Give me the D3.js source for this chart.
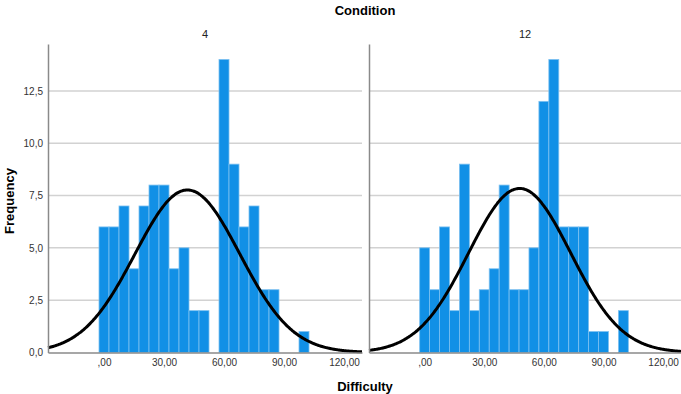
<html>
  <head>
    <style>
      body { margin: 0; background: #fff; }
      text { font-family: "Liberation Sans", Arial, sans-serif; }
    </style>
  </head>
  <body>
    <script src="https://d3js.org/d3.v7.min.js"></script>
    <script>
      // DATA
      const binCenters = [0, 5, 10, 15, 20, 25, 30, 35, 40, 45, 50, 55, 60, 65, 70, 75, 80, 85, 90, 95, 100];
      const panelLabels = ["4", "12"];
      const counts4 = [6, 6, 7, 4, 7, 8, 8, 4, 5, 2, 2, 0, 14, 9, 6, 7, 3, 3, 0, 0, 1];
      const counts12 = [5, 3, 6, 2, 9, 2, 3, 4, 8, 3, 3, 5, 12, 14, 6, 6, 6, 1, 1, 0, 2];
      // normal curve parameters (mean, std dev, N)
      const curve4 = [41.7, 26.2, 102];
      const curve12 = [47.8, 25.7, 101];
      const xTicks = [0, 30, 60, 90, 120];
      const xTickLabels = [",00", "30,00", "60,00", "90,00", "120,00"];
      const yTicks = [0, 2.5, 5, 7.5, 10, 12.5];
      const yTickLabels = ["0,0", "2,5", "5,0", "7,5", "10,0", "12,5"];
      const binWidth = 5;

      const svg = d3.select("body").append("svg").attr("width", 681).attr("height", 394);

      const plotTop = 44, plotBottom = 352.5;
      const yScale = d3.scaleLinear().domain([0, 14.74]).range([plotBottom, plotTop]);

      const panels = [
        { label: panelLabels[0], counts: counts4, curve: curve4, x0: 48, x1: 362, showY: true },
        { label: panelLabels[1], counts: counts12, curve: curve12, x0: 369, x1: 681, showY: false },
      ];

      panels.forEach((p) => {
        const xScale = d3.scaleLinear().domain([-28, 129]).range([p.x0, p.x1]);
        const g = svg.append("g");

        // gridlines
        g.selectAll("line.grid")
          .data(yTicks.slice(1))
          .enter()
          .append("line")
          .attr("x1", p.x0)
          .attr("x2", p.x1)
          .attr("y1", (d) => yScale(d))
          .attr("y2", (d) => yScale(d))
          .attr("stroke", "#d2d2d2")
          .attr("stroke-width", 1.5);

        // bars
        const bins = binCenters.map((c, i) => ({ c: c, n: p.counts[i] })).filter((d) => d.n > 0);
        g.selectAll("rect.bar")
          .data(bins)
          .enter()
          .append("rect")
          .attr("class", "bar")
          .attr("x", (d) => xScale(d.c - binWidth / 2))
          .attr("width", (d) => xScale(d.c + binWidth / 2) - xScale(d.c - binWidth / 2))
          .attr("y", (d) => yScale(d.n))
          .attr("height", (d) => yScale(0) - yScale(d.n))
          .attr("fill", "#1190e6")
          .attr("stroke", "#7cc0f0")
          .attr("stroke-width", 0.8);

        // normal curve
        const [mu, sd, n] = p.curve;
        const pdf = (x) => (n * binWidth) / (sd * Math.sqrt(2 * Math.PI)) * Math.exp(-0.5 * ((x - mu) / sd) ** 2);
        const xs = d3.range(-28, 129.01, 0.5);
        const line = d3.line().x((d) => xScale(d)).y((d) => yScale(pdf(d))).curve(d3.curveBasis);
        g.append("path")
          .datum(xs)
          .attr("d", line)
          .attr("fill", "none")
          .attr("stroke", "#000")
          .attr("stroke-width", 3);

        // axes
        const yAxis = d3.axisLeft(yScale).tickValues(yTicks).tickSize(0).tickPadding(5)
          .tickFormat((d, i) => (p.showY ? yTickLabels[i] : ""));
        const ya = g.append("g").attr("transform", `translate(${p.x0},0)`).call(yAxis);
        ya.select(".domain").attr("stroke", "#8a8a8a").attr("stroke-width", 1.5);
        ya.selectAll("text").attr("font-size", 10).attr("fill", "#333");

        const xAxis = d3.axisBottom(xScale).tickValues(xTicks).tickSize(0).tickPadding(6)
          .tickFormat((d, i) => xTickLabels[i]);
        const xa = g.append("g").attr("transform", `translate(0,${plotBottom})`).call(xAxis);
        xa.select(".domain").attr("stroke", "#8a8a8a").attr("stroke-width", 1.5);
        xa.selectAll("text").attr("font-size", 10).attr("fill", "#333");

        // panel label
        g.append("text")
          .attr("x", (p.x0 + p.x1) / 2)
          .attr("y", 38)
          .attr("text-anchor", "middle")
          .attr("font-size", 11)
          .attr("fill", "#222")
          .text(p.label);
      });

      // titles
      svg.append("text").attr("x", 365).attr("y", 15).attr("text-anchor", "middle")
        .attr("font-size", 13).attr("font-weight", "bold").text("Condition");
      svg.append("text").attr("x", 365).attr("y", 391).attr("text-anchor", "middle")
        .attr("font-size", 13).attr("font-weight", "bold").text("Difficulty");
      svg.append("text").attr("transform", "translate(14,201) rotate(-90)").attr("text-anchor", "middle")
        .attr("font-size", 13).attr("font-weight", "bold").text("Frequency");
    </script>
  </body>
</html>
